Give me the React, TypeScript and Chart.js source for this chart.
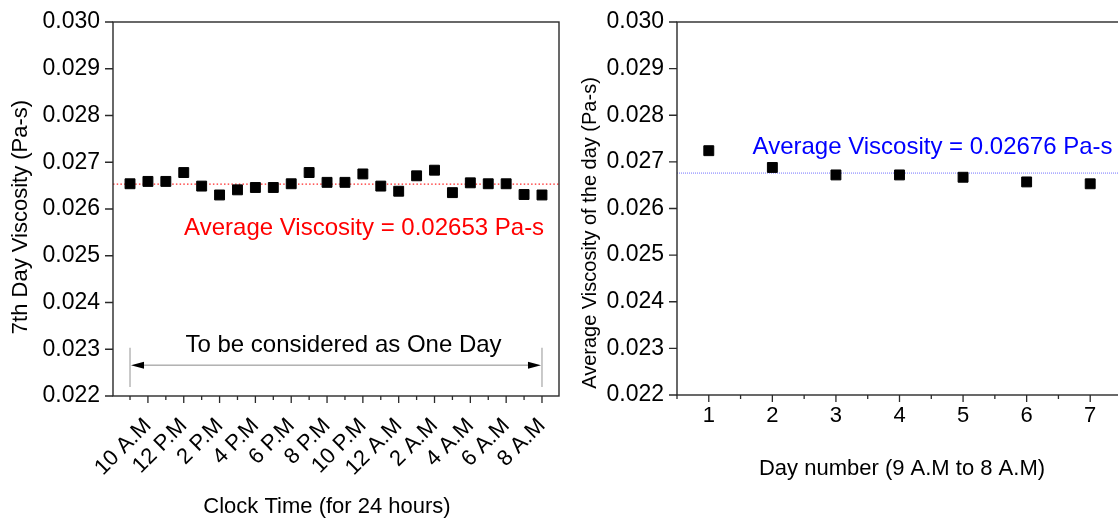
import React, { useEffect, useRef } from 'react';
import { Chart, registerables } from 'chart.js';

Chart.register(...registerables);

const FONT = '"Liberation Sans", Arial, Helvetica, sans-serif';

// ---- Left chart data (7th day, hourly from 9 A.M to 8 A.M) ----
const hourlyViscosity = [
  0.02654, 0.02659, 0.02659, 0.02678, 0.02649, 0.0263, 0.02641, 0.02646,
  0.02646, 0.02654, 0.02678, 0.02657, 0.02657, 0.02675, 0.02649, 0.02638,
  0.02671, 0.02683, 0.02635, 0.02656, 0.02654, 0.02654, 0.02631, 0.0263,
];
const hourTickLabels = [
  '10 A.M', '12 P.M', '2 P.M', '4 P.M', '6 P.M', '8 P.M',
  '10 P.M', '12 A.M', '2 A.M', '4 A.M', '6 A.M', '8 A.M',
];
const leftAverage = 0.02653;
const leftAverageText = 'Average Viscosity = 0.02653 Pa-s';
const leftAverageTextPos = { x: 13.07, y: 0.02559 };
const oneDayText = 'To be considered as One Day';
const oneDayTextPos = { x: 11.92, y: 0.02309 };
const oneDayArrowY = 0.02266;
const oneDayBracket = { top: 0.02303, bottom: 0.02219 };

// ---- Right chart data (daily averages) ----
const dayNumbers = [1, 2, 3, 4, 5, 6, 7];
const dailyViscosity = [0.02724, 0.02688, 0.02672, 0.02672, 0.02667, 0.02657, 0.02653];
const rightAverage = 0.02676;
const rightAverageText = 'Average Viscosity = 0.02676 Pa-s';
const rightAverageTextPos = { x: 4.52, y: 0.02732 };

// ---- Shared axis ----
const yMin = 0.022;
const yMax = 0.03;
const yTickValues = Array.from({ length: 17 }, (_, i) => (22 + i * 0.5) / 1000);

const AXIS_COLOR = '#2a2a2a';

function drawFrameAndTicks(chart: any) {
  const { ctx, chartArea, scales } = chart;
  const { left, right, top, bottom } = chartArea;
  ctx.save();
  ctx.strokeStyle = AXIS_COLOR;
  ctx.lineWidth = 1.4;
  ctx.strokeRect(left, top, right - left, bottom - top);
  ctx.lineWidth = 1.3;
  ctx.beginPath();
  scales.x.ticks.forEach((t: any) => {
    const px = scales.x.getPixelForValue(t.value);
    const len = t.label ? 7 : 4;
    ctx.moveTo(px, bottom);
    ctx.lineTo(px, bottom + len);
  });
  scales.y.ticks.forEach((t: any) => {
    const py = scales.y.getPixelForValue(t.value);
    const len = t.label ? 8 : 4;
    ctx.moveTo(left, py);
    ctx.lineTo(left - len, py);
  });
  ctx.stroke();
  ctx.restore();
}

function drawText(ctx: any, text: string, x: number, y: number, size: number, color: string, rot = 0) {
  ctx.save();
  ctx.translate(x, y);
  if (rot) ctx.rotate(rot);
  ctx.font = `${size}px ${FONT}`;
  ctx.fillStyle = color;
  ctx.textAlign = 'center';
  ctx.textBaseline = 'middle';
  ctx.fillText(text, 0, 0);
  ctx.restore();
}

function drawHLine(chart: any, value: number, color: string, width: number, dash: number[]) {
  const { ctx, chartArea, scales } = chart;
  const py = scales.y.getPixelForValue(value);
  ctx.save();
  ctx.strokeStyle = color;
  ctx.lineWidth = width;
  ctx.setLineDash(dash);
  ctx.beginPath();
  ctx.moveTo(chartArea.left, py);
  ctx.lineTo(chartArea.right, py);
  ctx.stroke();
  ctx.restore();
}

function noPad(s: any) {
  s.paddingLeft = 0;
  s.paddingRight = 0;
  s.paddingTop = 0;
  s.paddingBottom = 0;
}

function yScale(width: number) {
  return {
    type: 'linear',
    min: yMin,
    max: yMax,
    afterBuildTicks: (s: any) => {
      s.ticks = yTickValues.map((v) => ({ value: v }));
    },
    afterFit: (s: any) => {
      s.width = width;
      noPad(s);
    },
    ticks: {
      font: { family: FONT, size: 23 },
      color: '#000',
      padding: 13,
      callback: (v: number, i: number) => (i % 2 === 0 ? v.toFixed(3) : ''),
    },
    grid: { display: false, drawTicks: false },
    border: { display: false },
  };
}

function LeftChart() {
  const ref = useRef<HTMLCanvasElement>(null);
  useEffect(() => {
    const plugin = {
      id: 'leftDecor',
      beforeDatasetsDraw(chart: any) {
        drawHLine(chart, leftAverage, 'rgba(255,0,0,0.85)', 1.2, [1.5, 2.2]);
        const { ctx, scales } = chart;
        const x0 = scales.x.getPixelForValue(0);
        const x1 = scales.x.getPixelForValue(hourlyViscosity.length - 1);
        const yA = scales.y.getPixelForValue(oneDayArrowY);
        const yT = scales.y.getPixelForValue(oneDayBracket.top);
        const yB = scales.y.getPixelForValue(oneDayBracket.bottom);
        ctx.save();
        ctx.strokeStyle = '#b8b8b8';
        ctx.lineWidth = 1.5;
        ctx.beginPath();
        ctx.moveTo(x0, yT);
        ctx.lineTo(x0, yB);
        ctx.moveTo(x1, yT);
        ctx.lineTo(x1, yB);
        ctx.stroke();
        ctx.strokeStyle = '#8a8a8a';
        ctx.lineWidth = 1;
        ctx.beginPath();
        ctx.moveTo(x0 + 10, yA);
        ctx.lineTo(x1 - 10, yA);
        ctx.stroke();
        ctx.fillStyle = '#000';
        ctx.beginPath();
        ctx.moveTo(x0 + 1, yA);
        ctx.lineTo(x0 + 14, yA - 3.5);
        ctx.lineTo(x0 + 14, yA + 3.5);
        ctx.closePath();
        ctx.moveTo(x1 - 1, yA);
        ctx.lineTo(x1 - 14, yA - 3.5);
        ctx.lineTo(x1 - 14, yA + 3.5);
        ctx.closePath();
        ctx.fill();
        ctx.restore();
      },
      afterDraw(chart: any) {
        const { ctx, scales } = chart;
        drawFrameAndTicks(chart);
        drawText(
          ctx, leftAverageText,
          scales.x.getPixelForValue(leftAverageTextPos.x),
          scales.y.getPixelForValue(leftAverageTextPos.y), 24, '#ff0000'
        );
        drawText(
          ctx, oneDayText,
          scales.x.getPixelForValue(oneDayTextPos.x),
          scales.y.getPixelForValue(oneDayTextPos.y), 24, '#000'
        );
        drawText(ctx, 'Clock Time (for 24 hours)', 327, 507, 22, '#000');
        drawText(ctx, '7th Day Viscosity (Pa-s)', 21, 217, 22, '#000', -Math.PI / 2);
      },
    };
    const chart = new Chart(ref.current as HTMLCanvasElement, {
      type: 'scatter',
      data: {
        datasets: [
          {
            data: hourlyViscosity.map((v, i) => ({ x: i, y: v })),
            pointStyle: 'rect',
            pointRadius: 7,
            backgroundColor: '#000',
            borderColor: '#000',
            borderWidth: 1,
          },
        ],
      },
      options: {
        animation: false,
        responsive: false,
        events: [],
        layout: { padding: { left: 0, right: 11, top: 22, bottom: 0 } },
        plugins: { legend: { display: false }, tooltip: { enabled: false } },
        scales: {
          x: {
            type: 'linear',
            min: -0.95,
            max: hourlyViscosity.length - 1 + 0.95,
            afterBuildTicks: (s: any) => {
              s.ticks = hourlyViscosity.map((_, i) => ({ value: i }));
            },
            afterFit: (s: any) => {
              s.height = 124;
              noPad(s);
            },
            ticks: {
              autoSkip: false,
              minRotation: 45,
              maxRotation: 45,
              padding: 17,
              font: { family: FONT, size: 22 },
              color: '#000',
              callback: (v: number) => (v % 2 === 1 ? hourTickLabels[(v - 1) / 2] : ''),
            },
            grid: { display: false, drawTicks: false },
            border: { display: false },
          },
          y: yScale(113),
        },
      },
      plugins: [plugin],
    } as any);
    return () => chart.destroy();
  }, []);
  return <canvas ref={ref} width={570} height={520} style={{ position: 'absolute', left: 0, top: 0 }} />;
}

function RightChart() {
  const ref = useRef<HTMLCanvasElement>(null);
  useEffect(() => {
    const plugin = {
      id: 'rightDecor',
      beforeDatasetsDraw(chart: any) {
        drawHLine(chart, rightAverage, 'rgba(100,100,255,0.9)', 1, [1, 1]);
      },
      afterDraw(chart: any) {
        const { ctx, scales } = chart;
        drawFrameAndTicks(chart);
        drawText(
          ctx, rightAverageText,
          scales.x.getPixelForValue(rightAverageTextPos.x),
          scales.y.getPixelForValue(rightAverageTextPos.y), 24, '#0000ff'
        );
        drawText(ctx, 'Day number (9 A.M to 8 A.M)', 332, 469, 22, '#000');
        drawText(ctx, 'Average Viscosity of the day (Pa-s)', 20, 233, 20, '#000', -Math.PI / 2);
      },
    };
    const chart = new Chart(ref.current as HTMLCanvasElement, {
      type: 'scatter',
      data: {
        datasets: [
          {
            data: dailyViscosity.map((v, i) => ({ x: dayNumbers[i], y: v })),
            pointStyle: 'rect',
            pointRadius: 7,
            backgroundColor: '#000',
            borderColor: '#000',
            borderWidth: 1,
          },
        ],
      },
      options: {
        animation: false,
        responsive: false,
        events: [],
        layout: { padding: { left: 0, right: 4, top: 22, bottom: 0 } },
        plugins: { legend: { display: false }, tooltip: { enabled: false } },
        scales: {
          x: {
            type: 'linear',
            min: 0.5,
            max: 7.5,
            afterBuildTicks: (s: any) => {
              const t: any[] = [];
              dayNumbers.forEach((d) => {
                t.push({ value: d - 0.5 });
                t.push({ value: d });
              });
              t.push({ value: dayNumbers[dayNumbers.length - 1] + 0.5 });
              s.ticks = t;
            },
            afterFit: (s: any) => {
              s.height = 125;
              noPad(s);
            },
            ticks: {
              autoSkip: false,
              maxRotation: 0,
              minRotation: 0,
              padding: 8,
              font: { family: FONT, size: 22 },
              color: '#000',
              callback: (v: number) => (Number.isInteger(v) ? String(v) : ''),
            },
            grid: { display: false, drawTicks: false },
            border: { display: false },
          },
          y: yScale(107),
        },
      },
      plugins: [plugin],
    } as any);
    return () => chart.destroy();
  }, []);
  return <canvas ref={ref} width={560} height={520} style={{ position: 'absolute', left: 570, top: 0 }} />;
}

export default function App() {
  return (
    <div
      style={{
        position: 'absolute',
        left: 0,
        top: 0,
        width: 1118,
        height: 520,
        overflow: 'hidden',
        background: '#fff',
      }}
    >
      <LeftChart />
      <RightChart />
    </div>
  );
}
